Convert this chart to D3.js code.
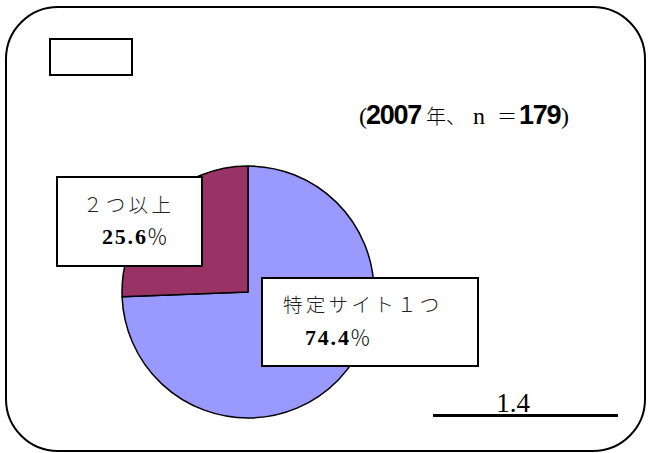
<!DOCTYPE html>
<html><head><meta charset="utf-8">
<script src="https://cdn.jsdelivr.net/npm/d3@7"></script>
<style>
html,body{margin:0;padding:0;background:#fff;}
svg{display:block;}
.jp{font-family:"Noto Sans CJK JP",sans-serif;font-weight:300;}
.num{font-family:"Liberation Serif","DejaVu Serif",serif;font-weight:bold;}
.bsans{font-family:"Liberation Sans",Arial,sans-serif;font-weight:bold;}
.ser{font-family:"Liberation Serif","DejaVu Serif",serif;}
</style>
</head><body>
<svg id="c" width="649" height="453"></svg>
<script>
const categories = ["特定サイト１つ", "２つ以上"];
const values = [74.4, 25.6];
const colors = ["#9999FF", "#993366"];
const year = "2007";
const sampleN = "179";
const figNo = "1.4";

const svg = d3.select("#c");

// outer rounded border
svg.append("rect").attr("x", 6).attr("y", 7).attr("width", 639).attr("height", 444)
  .attr("rx", 52).attr("ry", 52).attr("fill", "#fff").attr("stroke", "#000").attr("stroke-width", 2);

// empty title box
svg.append("rect").attr("x", 50).attr("y", 39).attr("width", 82).attr("height", 36)
  .attr("fill", "#fff").attr("stroke", "#000").attr("stroke-width", 2);

// note text: (2007年、n＝179)
const base = 124;
const note = svg.append("text").attr("y", base);
note.append("tspan").attr("class", "ser").attr("x", 359).attr("font-size", 24).text("(");
note.append("tspan").attr("class", "bsans").attr("x", 366).attr("font-size", 27)
  .attr("letter-spacing", -1.3).text(year);
note.append("tspan").attr("class", "jp").attr("x", 426).attr("font-size", 20).text("年、");
note.append("tspan").attr("class", "ser").attr("x", 473).attr("font-size", 24).text("n");
note.append("tspan").attr("class", "jp").attr("x", 497).attr("font-size", 20).text("＝");
note.append("tspan").attr("class", "bsans").attr("x", 519).attr("font-size", 27)
  .attr("letter-spacing", -1.3).text(sampleN);
note.append("tspan").attr("class", "ser").attr("x", 561).attr("font-size", 24).text(")");

// pie
const cx = 248, cy = 292, r = 126;
const pie = d3.pie().sort(null).startAngle(0).endAngle(2 * Math.PI);
const arc = d3.arc().innerRadius(0).outerRadius(r);
const g = svg.append("g").attr("transform", `translate(${cx},${cy})`);
g.selectAll("path").data(pie(values)).join("path")
  .attr("d", arc).attr("fill", (d, i) => colors[i])
  .attr("stroke", "#000").attr("stroke-width", 1.5).attr("stroke-linejoin", "round");

// label boxes
const boxes = [
  {i: 1, x: 57, y: 177, w: 145, h: 89, tx: 83, ty1: 212, px: 102, ty2: 244},
  {i: 0, x: 262, y: 278, w: 216, h: 88, tx: 283, ty1: 312, px: 305, ty2: 345}
];
boxes.forEach(b => {
  svg.append("rect").attr("x", b.x).attr("y", b.y).attr("width", b.w).attr("height", b.h)
    .attr("fill", "#fff").attr("stroke", "#000").attr("stroke-width", 2);
  svg.append("text").attr("class", "jp").attr("x", b.tx).attr("y", b.ty1)
    .attr("font-size", 19.5).attr("letter-spacing", 3.3).attr("fill", "#222").text(categories[b.i]);
  const t = svg.append("text").attr("x", b.px).attr("y", b.ty2).attr("font-size", 22);
  t.append("tspan").attr("class", "num").attr("letter-spacing", 1.8).text(values[b.i].toFixed(1));
  t.append("tspan").attr("class", "jp").attr("font-size", 21).attr("dx", -1).text("％");
});

// figure number
svg.append("text").attr("x", 513).attr("y", 412).attr("text-anchor", "middle")
  .attr("font-family", "Liberation Serif, serif").attr("font-size", 27).text(figNo);
svg.append("line").attr("x1", 433).attr("x2", 618).attr("y1", 415.5).attr("y2", 415.5)
  .attr("stroke", "#000").attr("stroke-width", 3);
</script>
</body></html>
